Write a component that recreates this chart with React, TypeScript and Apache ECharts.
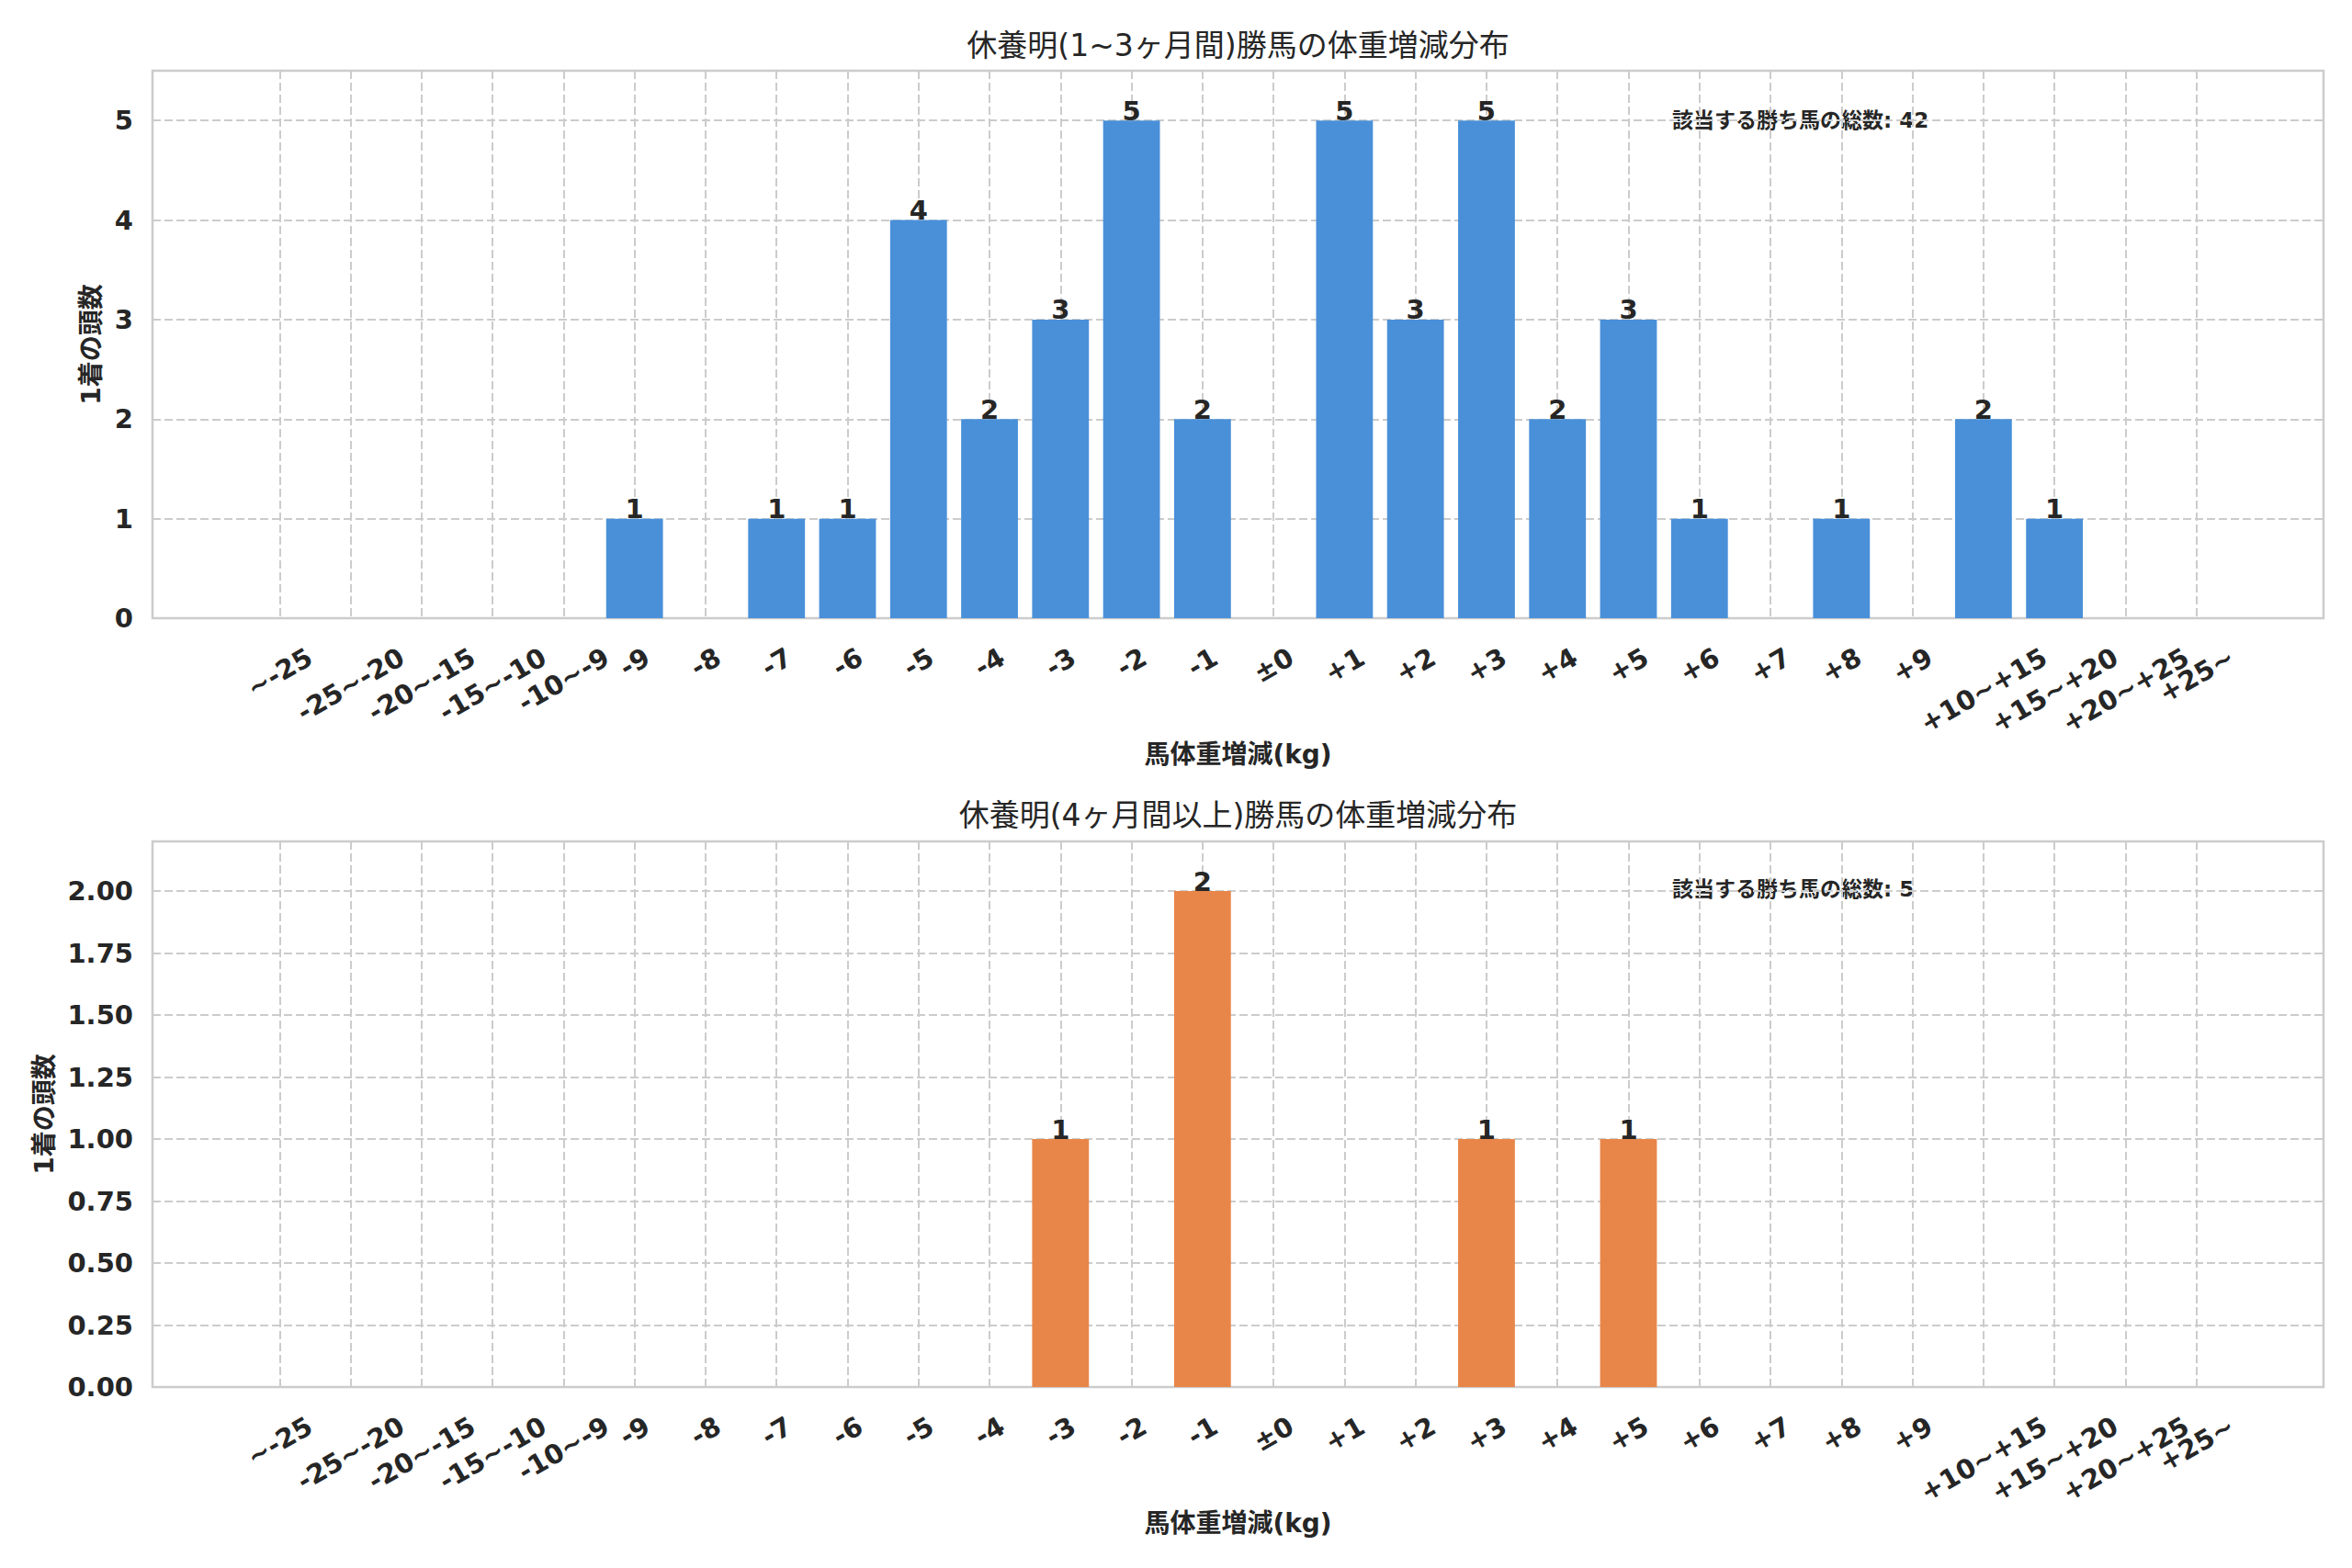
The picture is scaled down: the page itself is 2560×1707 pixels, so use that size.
import React, { useEffect, useRef } from 'react';
import * as echarts from 'echarts';

const FONT = '"DejaVu Sans", "Noto Sans CJK JP", sans-serif';
const TEXT_COLOR = '#262626';
const GRID_COLOR = '#cccccc';

const categories = [
  '~-25', '-25~-20', '-20~-15', '-15~-10', '-10~-9',
  '-9', '-8', '-7', '-6', '-5', '-4', '-3', '-2', '-1', '±0',
  '+1', '+2', '+3', '+4', '+5', '+6', '+7', '+8', '+9',
  '+10~+15', '+15~+20', '+20~+25', '+25~',
];

// 1着回数 (休養 1~3ヶ月)
const shortRestCounts = [0, 0, 0, 0, 0, 1, 0, 1, 1, 4, 2, 3, 5, 2, 0, 5, 3, 5, 2, 3, 1, 0, 1, 0, 2, 1, 0, 0];
// 1着回数 (休養 4ヶ月以上)
const longRestCounts = [0, 0, 0, 0, 0, 0, 0, 0, 0, 0, 0, 1, 0, 2, 0, 0, 0, 1, 0, 1, 0, 0, 0, 0, 0, 0, 0, 0];

const shortRestTicks = [0, 1, 2, 3, 4, 5];
const longRestTicks = [0, 0.25, 0.5, 0.75, 1, 1.25, 1.5, 1.75, 2];

const titles = [
  '休養明(1~3ヶ月間)勝馬の体重増減分布',
  '休養明(4ヶ月間以上)勝馬の体重増減分布',
];
const totalLabel = '該当する勝ち馬の総数';
const xName = '馬体重増減(kg)';
const yName = '1着の頭数';

// layout (px)
const FRAME_LEFT = 166;
const FRAME_RIGHT = 31;
const FRAME_WIDTH = 2560 - FRAME_LEFT - FRAME_RIGHT;
const EDGE_SLOTS = 1.79;
const SLOT = FRAME_WIDTH / (categories.length - 1 + 2 * EDGE_SLOTS);
const EDGE = SLOT * EDGE_SLOTS;
const TICK_SIZE = 29;

const sum = (a: number[]) => a.reduce((s, v) => s + v, 0);

// rotated labels centred on the tick like matplotlib (rotation=30, ha=center)
function buildLabelRich() {
  const ctx = document.createElement('canvas').getContext('2d')!;
  ctx.font = `bold ${TICK_SIZE}px ${FONT}`;
  const rich: Record<string, any> = {};
  categories.forEach((c, i) => {
    const w = ctx.measureText(c).width;
    rich['s' + i] = { fontSize: 1, lineHeight: 0.433 * w, width: 1 };
    rich['t' + i] = {
      fontSize: TICK_SIZE, fontWeight: 'bold', fontFamily: FONT,
      color: TEXT_COLOR, lineHeight: 34,
    };
    rich['g' + i] = { fontSize: 1, width: 0.25 * w };
  });
  return rich;
}

const dashed = { color: GRID_COLOR, width: 2, type: [9, 4] as number[] };

function panel(
  idx: number,
  top: number,
  height: number,
  counts: number[],
  ticks: number[],
  color: string,
  yNameGap: number,
  fmt: (v: number) => string,
  rich: Record<string, any>,
) {
  const yMax = Math.max(...counts) * 1.1;
  const interval = ticks[1] - ticks[0];
  const gi = idx * 2;
  const grids = [
    {
      left: FRAME_LEFT, top, width: FRAME_WIDTH, height,
      show: true, borderColor: GRID_COLOR, borderWidth: 2.5,
    },
    { left: FRAME_LEFT + EDGE, top, width: FRAME_WIDTH - 2 * EDGE, height },
  ];
  const xAxes = [
    {
      gridIndex: gi, type: 'value', min: 0, max: 1,
      axisLine: { show: false }, axisTick: { show: false },
      axisLabel: { show: false }, splitLine: { show: false },
      name: xName, nameLocation: 'middle', nameGap: 134,
      nameTextStyle: { fontSize: 28, fontWeight: 'bold', fontFamily: FONT, color: TEXT_COLOR },
    },
    {
      gridIndex: gi + 1, type: 'category', data: categories, boundaryGap: false,
      axisLine: { show: false }, axisTick: { show: false },
      splitLine: { show: true, interval: 0, lineStyle: dashed },
      axisLabel: {
        interval: 0, hideOverlap: false, rotate: 30, margin: 40,
        align: 'center', verticalAlign: 'middle',
        fontSize: TICK_SIZE, fontWeight: 'bold', fontFamily: FONT, color: TEXT_COLOR,
        formatter: (v: string, i: number) => `{s${i}| }\n{t${i}|${v}}{g${i}| }`,
        rich,
      },
    },
  ];
  const yAxes = [
    {
      gridIndex: gi, type: 'value', min: 0, max: yMax, interval,
      axisLine: { show: false }, axisTick: { show: false },
      splitLine: { show: true, lineStyle: dashed },
      axisLabel: {
        margin: 21, fontSize: TICK_SIZE, fontWeight: 'bold', fontFamily: FONT, color: TEXT_COLOR,
        formatter: (v: number) => (ticks.some((t) => Math.abs(t - v) < 1e-6) ? fmt(v) : ''),
      },
      name: yName, nameLocation: 'middle', nameGap: yNameGap,
      nameTextStyle: { fontSize: 28, fontWeight: 'bold', fontFamily: FONT, color: TEXT_COLOR },
    },
    { gridIndex: gi + 1, type: 'value', min: 0, max: yMax, show: false },
  ];
  const series = {
    type: 'bar',
    xAxisIndex: gi + 1,
    yAxisIndex: gi + 1,
    data: counts,
    barWidth: '80%',
    itemStyle: { color },
    label: {
      show: true, position: 'top', distance: -4,
      fontSize: TICK_SIZE, fontWeight: 'bold', fontFamily: FONT, color: TEXT_COLOR,
      formatter: (p: any) => (p.value ? String(p.value) : ''),
    },
  };
  return { grids, xAxes, yAxes, series };
}

const App: React.FC = () => {
  const chartRef = useRef<HTMLDivElement>(null);

  useEffect(() => {
    document.body.style.margin = '0';
    const chart = echarts.init(chartRef.current, null, { renderer: 'svg' });
    const rich = buildLabelRich();

    const top = panel(0, 77, 596, shortRestCounts, shortRestTicks, '#4a90d9', 51, (v) => String(v), rich);
    const bottom = panel(1, 916, 594, longRestCounts, longRestTicks, '#e8864a', 104, (v) => v.toFixed(2), rich);

    const titleText = (text: string, y: number) => ({
      type: 'text', x: FRAME_LEFT + FRAME_WIDTH / 2, y,
      style: { text, align: 'center', verticalAlign: 'middle', fontSize: 33, fontFamily: FONT, fill: TEXT_COLOR },
    });
    const totalText = (n: number, y: number) => ({
      type: 'text', x: FRAME_LEFT + FRAME_WIDTH * 0.7, y,
      style: {
        text: `${totalLabel}: ${n}`, align: 'left', verticalAlign: 'middle',
        fontSize: 23, fontWeight: 'bold', fontFamily: FONT, fill: TEXT_COLOR,
      },
    });

    chart.setOption({
      animation: false,
      backgroundColor: '#ffffff',
      grid: [...top.grids, ...bottom.grids],
      xAxis: [...top.xAxes, ...bottom.xAxes],
      yAxis: [...top.yAxes, ...bottom.yAxes],
      series: [top.series, bottom.series],
      graphic: [
        titleText(titles[0], 49),
        titleText(titles[1], 887),
        totalText(sum(shortRestCounts), 131),
        totalText(sum(longRestCounts), 968),
      ],
    });

    return () => {
      chart.dispose();
    };
  }, []);

  return <div ref={chartRef} style={{ width: 2560, height: 1707 }} />;
};

export default App;
